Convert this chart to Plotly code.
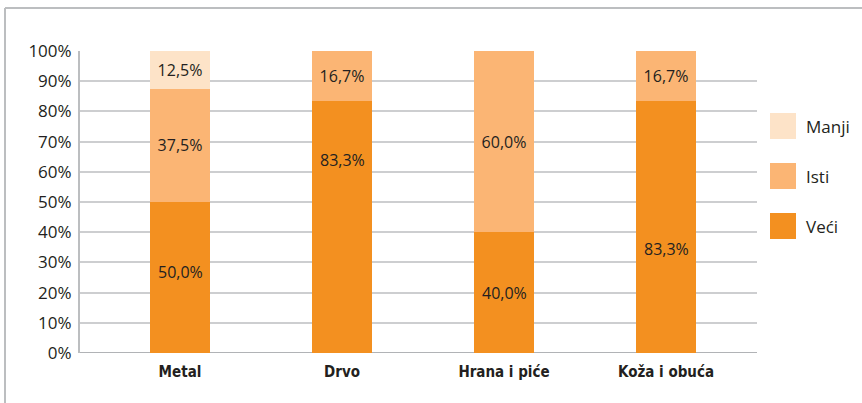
import plotly.graph_objects as go

categories = ["Metal", "Drvo", "Hrana i piće", "Koža i obuća"]
veci = [50.0, 83.3, 40.0, 83.3]
isti = [37.5, 16.7, 60.0, 16.7]
manji = [12.5, 0.0, 0.0, 0.0]
series_names = ["Veći", "Isti", "Manji"]
tick_vals = [0, 10, 20, 30, 40, 50, 60, 70, 80, 90, 100]
tick_text = [f"{v}%" for v in tick_vals]
# label anchor positions (percent) for the "Veći" segment labels as placed in the original
veci_label_y = [26.8, 63.9, 19.9, 34.4]

colors = ["#F39020", "#FBB574", "#FDE3C8"]
TXT = "#231F20"
W, H = 862, 403
ML, MR, MT, MB = 80, 105, 51, 50
PW, PH = W - ML - MR, H - MT - MB
LBL_FONT = dict(family="Open Sans", size=16, color=TXT)


def fmt(v):
    return (f"{v:.1f}%").replace(".", ",") if v > 0 else ""


fig = go.Figure()
for name, vals, col, show_text in [
    (series_names[0], veci, colors[0], False),
    (series_names[1], isti, colors[1], True),
    (series_names[2], manji, colors[2], True),
]:
    fig.add_trace(go.Bar(
        x=categories, y=vals, name=name, marker=dict(color=col, line=dict(width=0)),
        width=0.37,
        text=[fmt(v) for v in vals] if show_text else None,
        textposition="inside", insidetextanchor="middle",
        textfont=LBL_FONT,
        showlegend=False, hoverinfo="skip",
    ))

annotations = []
for c, v, ly in zip(categories, veci, veci_label_y):
    annotations.append(dict(x=c, y=ly, xref="x", yref="y", text=fmt(v), showarrow=False,
                            font=LBL_FONT))

shapes = []


def px2paper(x, y):
    return (x - ML) / PW, (H - MB - y) / PH


# manual legend
leg_tops = [113, 163, 213]
for name, col, top in zip(series_names[::-1], colors[::-1], leg_tops):
    x0, y0 = px2paper(770, top + 26)
    x1, y1 = px2paper(796, top)
    shapes.append(dict(type="rect", xref="paper", yref="paper", x0=x0, y0=y0, x1=x1, y1=y1,
                       fillcolor=col, line=dict(width=0)))
    tx, ty = px2paper(804, top + 13)
    annotations.append(dict(x=tx, y=ty, xref="paper", yref="paper", text=name, showarrow=False,
                            xanchor="left", yanchor="middle",
                            font=dict(family="Open Sans", size=17, color=TXT)))

# frame
bx0, by0 = px2paper(5, 403)
bx1, by1 = px2paper(862, 8)
shapes.append(dict(type="line", xref="paper", yref="paper", x0=bx0, y0=by0, x1=bx0, y1=by1,
                   line=dict(color="#BCBEC0", width=2)))
shapes.append(dict(type="line", xref="paper", yref="paper", x0=bx0, y0=by1, x1=bx1, y1=by1,
                   line=dict(color="#BCBEC0", width=2)))
# bottom axis line
shapes.append(dict(type="line", xref="paper", yref="y", x0=0, y0=0, x1=1, y1=0,
                   line=dict(color="#B1B3B6", width=2), layer="below"))

fig.update_layout(
    width=W, height=H, barmode="stack",
    margin=dict(l=ML, r=MR, t=MT, b=MB, pad=0),
    paper_bgcolor="white", plot_bgcolor="white",
    xaxis=dict(type="category", range=[-100 / 162, (757 - 180) / 162], showgrid=False,
               showline=False, ticks="", ticklabelstandoff=8,
               tickfont=dict(family="DejaVu Sans Condensed, Roboto Condensed, Roboto", size=15,
                             color=TXT, weight="bold")),
    yaxis=dict(range=[0, 100], tickvals=tick_vals, ticktext=tick_text, showgrid=True,
               gridcolor="#CDCED0", gridwidth=1.5, zeroline=False, showline=True,
               linecolor="#BCBEC0", linewidth=2, ticks="", ticklabelstandoff=3,
               tickfont=dict(family="Open Sans", size=17, color=TXT)),
    shapes=shapes, annotations=annotations, showlegend=False,
)
fig.write_html("out.html", config={"displayModeBar": False},
               post_script="document.body.style.margin='0';document.body.style.overflow='hidden';")
